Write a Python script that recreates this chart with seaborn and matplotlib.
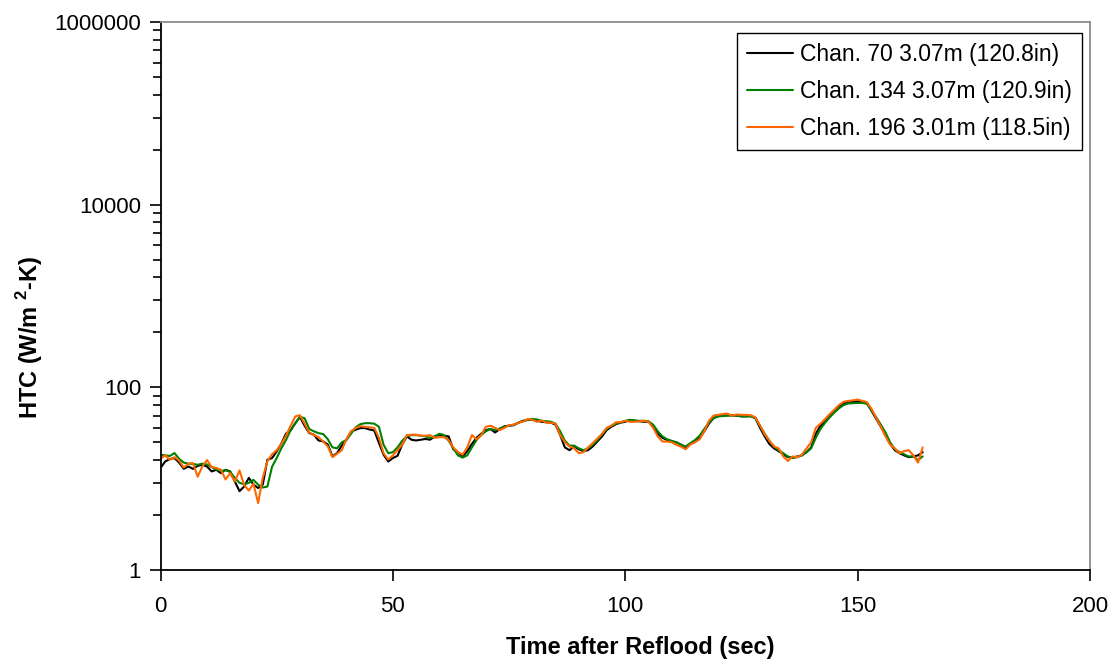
import matplotlib
matplotlib.use("Agg")
import matplotlib.pyplot as plt
import numpy as np
import pandas as pd
import seaborn as sns
from matplotlib.ticker import FixedLocator, FixedFormatter, NullFormatter

# Heat transfer coefficient histories, sampled once per second after reflood
time_s = list(range(0, 165))

htc_ch70 = [
    13.1, 15.4, 16.4, 16.8, 15.0, 12.8, 13.6, 12.8, 13.8, 14.2,
    13.6, 12.0, 12.5, 11.5, 12.5, 12.0, 9.3, 7.3, 8.2, 10.2,
    8.6, 7.9, 8.6, 16.1, 16.8, 19.9, 24.2, 31.1, 33.7, 40.5,
    47.4, 38.0, 31.6, 30.3, 26.2, 25.6, 23.6, 17.5, 19.1, 23.0,
    26.7, 32.9, 34.3, 35.8, 35.8, 34.5, 33.7, 24.6, 18.3, 15.4,
    16.8, 17.8, 23.6, 29.0, 26.7, 26.2, 26.7, 27.2, 26.7, 29.0,
    30.3, 29.5, 29.0, 21.0, 19.5, 17.4, 20.0,
    24.0, 28.0, 31.0, 34.0, 35.0, 32.0, 35.0, 37.5, 38.0, 38.5,
    41.0, 43.0, 44.0, 44.0, 43.0, 42.0, 41.5, 41.0, 39.0, 30.0,
    22.0, 20.5, 22.5, 21.0, 20.0, 20.5, 22.5, 25.5, 29.0, 34.0,
    37.0, 39.5, 41.0, 42.0, 44.0, 43.0, 42.5, 42.0, 42.0, 38.0,
    31.0, 28.0, 26.5, 25.5, 25.0, 23.5, 22.0, 24.0, 25.5, 28.0,
    33.0, 40.0, 46.0, 48.5, 49.0, 49.5, 49.5, 49.0, 48.0, 48.0,
    48.5, 46.0, 36.0, 29.0, 24.0, 21.5, 20.0, 18.5, 17.2, 17.0,
    17.5, 18.0, 19.5, 22.0, 31.0, 38.0, 42.0, 49.0, 55.0, 62.0,
    67.0, 69.5, 69.0, 70.0, 70.0, 67.5, 55.0, 45.0, 37.0, 30.0,
    24.0, 20.5, 19.0, 18.0, 17.2, 17.5, 18.0, 19.5,
]

htc_ch134 = [
    18.3, 18.0, 17.7, 19.1, 16.5, 15.0, 14.6, 14.5, 14.2, 14.6,
    14.3, 13.4, 12.6, 12.1, 12.4, 11.8, 10.2, 9.0, 8.7, 9.0,
    9.7, 8.6, 8.0, 8.2, 13.5, 16.8, 21.5, 26.5, 34.0, 40.5,
    47.5, 46.0, 35.0, 33.0, 31.5, 30.8, 27.0, 22.0, 21.5, 25.0,
    26.5, 31.0, 36.5, 39.5, 40.5, 40.5, 40.0, 37.0, 23.5, 19.0,
    19.5, 22.0, 26.0, 29.0, 30.0, 30.0, 29.5, 29.0, 28.0, 29.0,
    31.0, 30.0, 26.0, 21.5, 18.0, 17.0, 18.0,
    22.0, 26.5, 30.0, 33.0, 35.0, 34.0, 35.5, 37.0, 38.0, 39.0,
    41.0, 42.5, 44.0, 45.0, 44.5, 43.0, 42.5, 42.0, 40.0, 33.0,
    26.0, 23.0, 23.0, 21.5, 20.5, 21.5, 23.5, 26.5, 30.5, 35.0,
    38.0, 40.0, 41.5, 43.0, 44.0, 43.5, 43.0, 43.0, 42.5, 39.0,
    33.0, 29.0, 27.0, 26.0, 25.0, 23.5, 22.5, 24.5, 26.5, 29.5,
    35.0, 41.0, 46.0, 48.0, 48.5, 49.0, 49.0, 49.0, 48.5, 48.5,
    48.0, 46.0, 38.0, 31.0, 26.0, 22.5, 20.5, 19.0, 17.5, 16.8,
    17.2, 18.0, 19.5, 21.5, 28.0, 35.0, 41.0, 47.0, 53.0, 59.0,
    64.0, 66.5, 67.0, 67.5, 67.5, 66.0, 56.0, 47.0, 39.0, 32.0,
    25.0, 21.0, 19.5, 18.5, 17.5, 17.5, 16.0, 17.5,
]

htc_ch196 = [
    16.5, 18.0, 16.1, 17.2, 15.8, 13.2, 14.6, 14.8, 10.5, 13.6,
    16.0, 13.4, 13.1, 12.5, 9.8, 11.5, 9.3, 12.3, 8.5, 7.4,
    8.8, 5.4, 10.2, 15.5, 18.5, 20.5, 24.0, 29.5, 38.0, 48.0,
    49.5, 40.0, 32.0, 30.0, 28.5, 25.5, 22.5, 17.2, 18.8, 20.5,
    27.0, 33.0, 36.0, 37.5, 37.0, 36.5, 36.0, 28.0, 19.0, 16.2,
    18.0, 20.5, 23.5, 30.0, 30.3, 30.3, 29.5, 29.5, 30.0, 28.0,
    28.5, 28.5, 26.5, 22.0, 19.5, 18.3, 22.0,
    30.0, 27.0, 30.0, 37.0, 38.0, 36.0, 34.0, 36.0, 38.5, 39.0,
    41.0, 42.0, 45.0, 44.0, 42.0, 43.5, 41.0, 41.0, 40.0, 30.0,
    25.0, 22.5, 21.5, 19.0, 19.5, 22.0, 24.5, 27.5, 31.0, 36.0,
    38.0, 41.5, 41.5, 43.0, 42.0, 42.0, 42.5, 43.0, 42.0, 36.0,
    29.0, 25.5, 25.5, 25.0, 23.5, 22.4, 21.0, 23.6, 25.0, 27.0,
    33.0, 43.0, 49.0, 50.0, 51.0, 51.5, 49.0, 50.5, 50.0, 50.0,
    49.5, 47.0, 38.0, 30.5, 26.0, 22.5, 21.5, 17.5, 15.6, 17.5,
    17.2, 18.3, 21.5, 25.0, 36.0, 40.0, 45.0, 51.0, 57.0, 64.0,
    69.5, 71.0, 72.0, 73.5, 71.0, 69.0, 58.0, 46.0, 37.0, 29.0,
    23.5, 21.5, 19.0, 20.0, 20.5, 18.0, 15.0, 22.0,
]

series_labels = [
    "Chan. 70 3.07m (120.8in)",
    "Chan. 134 3.07m (120.9in)",
    "Chan. 196 3.01m (118.5in)",
]
series_colors = ["#000000", "#008000", "#FF6600"]

x_ticks = [0, 50, 100, 150, 200]
y_major = [1, 100, 10000, 1000000]
y_major_labels = ["1", "100", "10000", "1000000"]

sns.set_theme(style="ticks")
plt.rcParams["font.family"] = ["Liberation Sans", "DejaVu Sans"]
plt.rcParams["mathtext.fontset"] = "custom"
plt.rcParams["mathtext.rm"] = "Liberation Sans"
plt.rcParams["mathtext.bf"] = "Liberation Sans:bold"
plt.rcParams["text.color"] = "black"

frame = pd.DataFrame({
    "time": time_s,
    series_labels[0]: htc_ch70,
    series_labels[1]: htc_ch134,
    series_labels[2]: htc_ch196,
})
long = frame.melt(id_vars="time", var_name="series", value_name="htc")

W, H = 1113, 662
fig = plt.figure(figsize=(W / 100, H / 100), dpi=100)
fig.patch.set_facecolor("white")
left, right, top, bottom = 160.5, 1090, 22, 570
ax = fig.add_axes([left / W, 1 - bottom / H, (right - left) / W, (bottom - top) / H])

sns.lineplot(
    data=long, x="time", y="htc", hue="series",
    hue_order=series_labels,
    palette=dict(zip(series_labels, series_colors)),
    estimator=None, sort=False, linewidth=1.5, ax=ax,
)

ax.set_yscale("log")
ax.set_xlim(0, 200)
ax.set_ylim(1, 1000000)

ax.xaxis.set_major_locator(FixedLocator(x_ticks))
ax.xaxis.set_major_formatter(FixedFormatter([str(v) for v in x_ticks]))
ax.xaxis.set_minor_locator(FixedLocator([]))

minor_vals = [n * n * 100 ** k for k in range(3) for n in range(2, 10)]
ax.yaxis.set_major_locator(FixedLocator(y_major))
ax.yaxis.set_major_formatter(FixedFormatter(y_major_labels))
ax.yaxis.set_minor_locator(FixedLocator(minor_vals))
ax.yaxis.set_minor_formatter(NullFormatter())

ax.tick_params(axis="both", which="major", direction="out", length=8,
               width=1.2, color="black", labelsize=16, labelcolor="black")
ax.tick_params(axis="y", which="minor", direction="out", length=5.5,
               width=1.2, color="black")
ax.tick_params(axis="x", which="major", pad=11)
ax.tick_params(axis="y", which="major", pad=6)

for side in ("left", "bottom"):
    ax.spines[side].set_color("black")
    ax.spines[side].set_linewidth(1.3)
for side in ("top", "right"):
    ax.spines[side].set_visible(True)
    ax.spines[side].set_color("#8c8c8c")
    ax.spines[side].set_linewidth(1.3)
ax.grid(False)
ax.set_facecolor("white")

ax.set_xlabel("Time after Reflood (sec)", fontsize=17, fontweight="bold", color="black")
ax.xaxis.label.set_va("center")
ax.xaxis.set_label_coords(0.516, -0.142)
ax.set_ylabel(r"HTC (W/m $^{\mathbf{2}}$-K)", fontsize=17, fontweight="bold", color="black")
ax.yaxis.label.set_va("center")
ax.yaxis.set_label_coords(-0.1404, 0.425)

handles, labels = ax.get_legend_handles_labels()
leg = ax.legend(
    handles, labels, loc="upper right", bbox_to_anchor=(0.9914, 0.98),
    frameon=True, fancybox=False, edgecolor="black", framealpha=1,
    fontsize=16.5, handlelength=2.0, handletextpad=0.3,
    borderaxespad=0, borderpad=0.45, labelspacing=0.6, labelcolor="black",
)
leg.get_frame().set_linewidth(1.0)
for line in leg.get_lines():
    line.set_linewidth(1.5)

fig.savefig("out.png", dpi=100, facecolor="white")
